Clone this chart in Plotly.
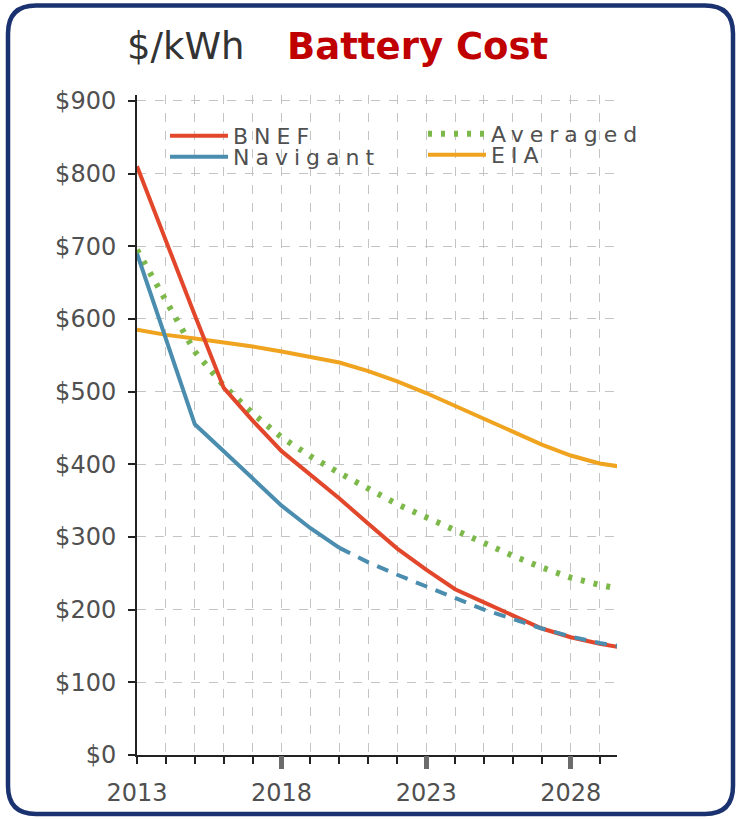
import plotly.graph_objects as go

# ---------------- data ----------------
years = list(range(2013, 2031))
bnef = [810, 707, 605, 505, 460, 418, 385, 353, 318, 284, 255, 228, 210, 192, 174, 162, 153, 146]
eia = [585, 578, 573, 568, 562, 555, 548, 540, 528, 514, 498, 480, 462, 444, 427, 412, 401, 395]
averaged = [695, 624, 555, 508, 470, 437, 411, 388, 366, 345, 327, 309, 291, 274, 258, 244, 234, 226]

navigant_years = [2013, 2015, 2016, 2017, 2018, 2019, 2020]
navigant = [690, 455, 418, 380, 343, 312, 285]
navigant_fc_years = list(range(2020, 2031))
navigant_fc = [285, 265, 248, 232, 216, 200, 187, 174, 163, 154, 148]

y_ticks = list(range(0, 1000, 100))
y_labels = ["$" + str(v) for v in y_ticks]
x_ticks = list(range(2013, 2030))
x_labels = [str(y) if y in (2013, 2018, 2023, 2028) else "" for y in x_ticks]
x_major = [2018, 2023, 2028]

# ---------------- layout geometry (pixels) ----------------
W, H = 737, 819
L, R, T, B = 137, 120, 95, 64
PW, PH = W - L - R, H - T - B


def px_x(p):
    return (p - L) / PW


def px_y(p):
    return (H - B - p) / PH


RED = "#E2472B"
BLUE = "#4A8DAE"
GREEN = "#7DB84A"
ORANGE = "#F0A31F"
GRID = "#c4c4c4"
TXT = "#505050"

fig = go.Figure()
fig.add_trace(go.Scatter(x=years, y=eia, mode="lines", name="EIA",
                         line=dict(color=ORANGE, width=4), legend="legend4"))
fig.add_trace(go.Scatter(x=years, y=averaged, mode="lines", name="Averaged",
                         line=dict(color=GREEN, width=6, dash="4px,9px"), legend="legend3"))
fig.add_trace(go.Scatter(x=years, y=bnef, mode="lines", name="BNEF",
                         line=dict(color=RED, width=4), legend="legend"))
fig.add_trace(go.Scatter(x=navigant_fc_years, y=navigant_fc, mode="lines", name="Navigant forecast",
                         xaxis="x2", line=dict(color=BLUE, width=4, dash="12px,9px"), showlegend=False))
fig.add_trace(go.Scatter(x=navigant_years, y=navigant, mode="lines", name="Navigant",
                         xaxis="x2", line=dict(color=BLUE, width=4), legend="legend2"))

for tr in fig.data:
    if tr.showlegend is not False:
        tr.name = f'<span style="letter-spacing:6px">{tr.name}</span>'

legend_font = dict(family="DejaVu Sans", size=22, color=TXT)
common_leg = dict(font=legend_font, bgcolor="rgba(0,0,0,0)", itemwidth=58,
                  xanchor="left", yanchor="middle", itemclick=False)

fig.update_layout(
    width=W, height=H,
    margin=dict(l=L, r=R, t=T, b=B),
    paper_bgcolor="white", plot_bgcolor="white",
    legend=dict(x=px_x(165), y=px_y(136), **common_leg),
    legend2=dict(x=px_x(165), y=px_y(157), **common_leg),
    legend3=dict(x=px_x(423), y=px_y(134), **common_leg),
    legend4=dict(x=px_x(423), y=px_y(155), **common_leg),
    xaxis=dict(range=[2013, 2029.6], tickvals=x_ticks, ticktext=x_labels,
               ticks="outside", ticklen=7, tickwidth=1.5, tickcolor="#222",
               showline=True, linecolor="#222", linewidth=2,
               showgrid=True, gridcolor=GRID, griddash="dash", gridwidth=1,
               zeroline=False, ticklabelstandoff=8,
               tickfont=dict(family="DejaVu Sans", size=24, color=TXT)),
    xaxis2=dict(overlaying="x", matches="x", anchor="y", side="bottom",
                tickvals=x_major, ticks="outside", ticklen=13, tickwidth=5,
                tickcolor="#6b6b6b", showticklabels=False, showgrid=False,
                showline=False, zeroline=False),
    yaxis=dict(range=[0, 908], tickvals=y_ticks, ticktext=y_labels,
               ticks="outside", ticklen=7, tickwidth=1.5, tickcolor="#222",
               showline=True, linecolor="#222", linewidth=2,
               showgrid=True, gridcolor=GRID, griddash="dash", gridwidth=1,
               zeroline=False, ticklabelstandoff=7,
               tickfont=dict(family="DejaVu Sans", size=24, color=TXT)),
)

# white panel behind legend (hides grid, below traces)
fig.add_shape(type="rect", xref="paper", yref="paper",
              x0=px_x(152), x1=px_x(680), y0=px_y(178), y1=px_y(108),
              fillcolor="white", line=dict(width=0), layer="between")

# rounded frame
lft, rgt, top, bot, r = 8, 733, 5.5, 814, 28
pts = [
    ("M", lft + r, top), ("L", rgt - r, top), ("Q", rgt, top, rgt, top + r),
    ("L", rgt, bot - r), ("Q", rgt, bot, rgt - r, bot), ("L", lft + r, bot),
    ("Q", lft, bot, lft, bot - r), ("L", lft, top + r), ("Q", lft, top, lft + r, top),
]
path = ""
for p in pts:
    cmd, coords = p[0], p[1:]
    xy = []
    for i in range(0, len(coords), 2):
        xy.append(f"{px_x(coords[i]):.5f},{px_y(coords[i+1]):.5f}")
    path += cmd + " ".join(xy) + " "
path += "Z"
fig.add_shape(type="path", xref="paper", yref="paper", path=path,
              line=dict(color="#1B3270", width=4.5), fillcolor="rgba(0,0,0,0)")

# title
fig.add_annotation(text="$/kWh", xref="paper", yref="paper", x=px_x(125), y=px_y(47),
                   xanchor="left", yanchor="middle", showarrow=False,
                   font=dict(family="DejaVu Sans", size=37, color="#333333"))
fig.add_annotation(text="<b>Battery Cost</b>", xref="paper", yref="paper", x=px_x(285), y=px_y(47),
                   xanchor="left", yanchor="middle", showarrow=False,
                   font=dict(family="DejaVu Sans", size=37, color="#C00000"))

fig.write_html("out.html", config={"displayModeBar": False},
               post_script="document.body.style.margin='0px';")
